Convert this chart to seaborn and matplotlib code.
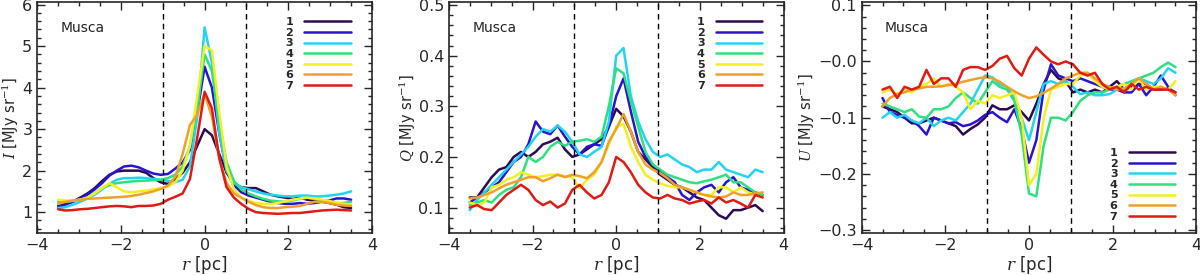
import numpy as np
import pandas as pd
import seaborn as sns
import matplotlib.pyplot as plt
from matplotlib.ticker import MultipleLocator

# radial grid (pc)
r = np.round(np.arange(41) * 0.175 - 3.5, 3)

labels = ["1", "2", "3", "4", "5", "6", "7"]
colors = ["#2e0a52", "#2a14d2", "#22d4f2", "#2ee07e", "#f2f020", "#f0a02a", "#e01a14"]

# total intensity I
I_1 = [1.15, 1.2, 1.25, 1.35, 1.45, 1.58, 1.75, 1.9, 1.98, 2.0, 2.0, 2.0, 1.95, 1.82, 1.72, 1.68, 1.8, 1.95, 2.2, 2.6,
       3.0, 2.85, 2.4, 1.95, 1.7, 1.6, 1.58, 1.58, 1.5, 1.42, 1.38, 1.35, 1.32, 1.35, 1.3, 1.28, 1.25, 1.22, 1.18, 1.12, 1.1]
I_2 = [1.12, 1.18, 1.25, 1.33, 1.42, 1.55, 1.7, 1.88, 2.0, 2.1, 2.12, 2.08, 2.0, 1.93, 1.9, 1.92, 2.05, 2.2, 2.5, 3.4,
       4.5, 4.0, 2.9, 2.0, 1.65, 1.48, 1.4, 1.35, 1.3, 1.25, 1.22, 1.2, 1.2, 1.22, 1.2, 1.22, 1.25, 1.28, 1.33, 1.33, 1.3]
I_3 = [1.1, 1.12, 1.18, 1.25, 1.33, 1.42, 1.55, 1.68, 1.78, 1.82, 1.82, 1.83, 1.82, 1.8, 1.78, 1.75, 1.72, 1.78, 2.1, 3.3,
       5.45, 4.6, 2.9, 2.0, 1.7, 1.6, 1.55, 1.5, 1.45, 1.42, 1.4, 1.38, 1.38, 1.4, 1.4, 1.38, 1.38, 1.4, 1.42, 1.45, 1.5]
I_4 = [1.25, 1.25, 1.27, 1.3, 1.35, 1.45, 1.58, 1.65, 1.7, 1.72, 1.74, 1.75, 1.76, 1.77, 1.78, 1.82, 1.9, 2.1, 2.6, 3.5,
       4.8, 4.4, 3.2, 2.2, 1.75, 1.55, 1.45, 1.38, 1.32, 1.28, 1.26, 1.25, 1.28, 1.32, 1.35, 1.32, 1.28, 1.25, 1.22, 1.22, 1.25]
I_5 = [1.3, 1.28, 1.28, 1.3, 1.35, 1.45, 1.58, 1.7, 1.6, 1.5, 1.48, 1.5, 1.52, 1.55, 1.58, 1.62, 1.72, 2.0, 2.6, 3.8,
       5.0, 4.9, 3.4, 2.1, 1.55, 1.35, 1.28, 1.22, 1.2, 1.2, 1.22, 1.26, 1.3, 1.33, 1.35, 1.33, 1.3, 1.27, 1.23, 1.2, 1.18]
I_6 = [1.2, 1.25, 1.28, 1.3, 1.32, 1.33, 1.34, 1.35, 1.36, 1.37, 1.39, 1.42, 1.46, 1.5, 1.56, 1.64, 1.85, 2.4, 3.1, 3.35,
       3.85, 3.3, 2.3, 1.7, 1.45, 1.35, 1.25, 1.17, 1.12, 1.1, 1.1, 1.12, 1.13, 1.15, 1.2, 1.25, 1.25, 1.22, 1.18, 1.16, 1.15]
I_7 = [1.07, 1.04, 1.05, 1.07, 1.08, 1.1, 1.12, 1.14, 1.15, 1.14, 1.12, 1.15, 1.15, 1.16, 1.2, 1.3, 1.37, 1.45, 1.8, 2.8,
       3.9, 3.5, 2.3, 1.6, 1.35, 1.2, 1.08, 1.0, 0.98, 0.97, 0.96, 0.97, 0.98, 0.98, 1.0, 1.02, 1.04, 1.05, 1.06, 1.05, 1.04]

# Stokes Q
Q_1 = [0.12, 0.12, 0.14, 0.16, 0.175, 0.18, 0.2, 0.21, 0.2, 0.21, 0.225, 0.23, 0.238, 0.215, 0.2, 0.205, 0.215, 0.225, 0.235, 0.26,
       0.295, 0.28, 0.25, 0.21, 0.195, 0.18, 0.165, 0.155, 0.145, 0.14, 0.13, 0.12, 0.115, 0.1, 0.085, 0.078, 0.095, 0.095, 0.1, 0.105, 0.093]
Q_2 = [0.11, 0.12, 0.13, 0.14, 0.15, 0.17, 0.19, 0.2, 0.225, 0.27, 0.25, 0.245, 0.262, 0.24, 0.22, 0.205, 0.22, 0.225, 0.222, 0.26,
       0.32, 0.355, 0.29, 0.23, 0.2, 0.185, 0.17, 0.16, 0.15, 0.125, 0.115, 0.13, 0.14, 0.145, 0.13, 0.15, 0.16, 0.14, 0.135, 0.13, 0.125]
Q_3 = [0.095, 0.115, 0.13, 0.145, 0.16, 0.175, 0.19, 0.205, 0.22, 0.24, 0.255, 0.25, 0.262, 0.25, 0.23, 0.205, 0.2, 0.21, 0.22, 0.27,
       0.4, 0.415, 0.32, 0.27, 0.235, 0.21, 0.2, 0.205, 0.195, 0.185, 0.18, 0.17, 0.175, 0.175, 0.19, 0.175, 0.17, 0.165, 0.16, 0.175, 0.17]
Q_4 = [0.105, 0.11, 0.115, 0.11, 0.125, 0.135, 0.14, 0.16, 0.2, 0.19, 0.2, 0.22, 0.23, 0.222, 0.23, 0.232, 0.235, 0.23, 0.24, 0.3,
       0.375, 0.365, 0.31, 0.26, 0.21, 0.185, 0.175, 0.165, 0.16, 0.155, 0.15, 0.148, 0.152, 0.155, 0.16, 0.165, 0.15, 0.15, 0.14, 0.13, 0.125]
Q_5 = [0.11, 0.105, 0.11, 0.14, 0.145, 0.155, 0.16, 0.17, 0.165, 0.16, 0.162, 0.165, 0.165, 0.162, 0.16, 0.138, 0.155, 0.165, 0.19, 0.225,
       0.26, 0.265, 0.22, 0.19, 0.165, 0.155, 0.148, 0.143, 0.14, 0.14, 0.135, 0.13, 0.125, 0.125, 0.14, 0.14, 0.13, 0.14, 0.13, 0.125, 0.12]
Q_6 = [0.118, 0.12, 0.125, 0.13, 0.138, 0.145, 0.15, 0.155, 0.16, 0.16, 0.152, 0.158, 0.165, 0.16, 0.165, 0.162, 0.158, 0.17, 0.19, 0.23,
       0.255, 0.285, 0.25, 0.21, 0.185, 0.175, 0.168, 0.158, 0.145, 0.14, 0.135, 0.13, 0.125, 0.122, 0.12, 0.122, 0.13, 0.125, 0.125, 0.128, 0.13]
Q_7 = [0.1, 0.105, 0.097, 0.095, 0.11, 0.125, 0.135, 0.145, 0.135, 0.115, 0.105, 0.112, 0.1, 0.108, 0.135, 0.145, 0.13, 0.118, 0.125, 0.15,
       0.2, 0.19, 0.17, 0.145, 0.13, 0.12, 0.118, 0.125, 0.118, 0.115, 0.108, 0.112, 0.115, 0.108, 0.12, 0.11, 0.115, 0.108, 0.1, 0.125, 0.12]

# Stokes U
U_1 = [-0.08, -0.085, -0.09, -0.1, -0.11, -0.11, -0.105, -0.1, -0.105, -0.11, -0.115, -0.13, -0.12, -0.112, -0.1, -0.078, -0.085, -0.085, -0.078, -0.09,
       -0.105, -0.075, -0.04, -0.015, -0.03, -0.035, -0.055, -0.05, -0.055, -0.05, -0.055, -0.045, -0.035, -0.05, -0.045, -0.04, -0.04, -0.05, -0.05, -0.048, -0.055]
U_2 = [-0.065, -0.09, -0.095, -0.1, -0.105, -0.115, -0.13, -0.1, -0.105, -0.11, -0.108, -0.115, -0.112, -0.105, -0.095, -0.09, -0.1, -0.108, -0.085, -0.12,
       -0.18, -0.14, -0.05, -0.005, -0.025, -0.03, -0.035, -0.03, -0.035, -0.04, -0.045, -0.05, -0.05, -0.055, -0.055, -0.04, -0.06, -0.045, -0.025, -0.045, -0.06]
U_3 = [-0.1, -0.09, -0.1, -0.095, -0.105, -0.11, -0.1, -0.115, -0.105, -0.1, -0.105, -0.09, -0.075, -0.05, -0.025, -0.028, -0.04, -0.045, -0.065, -0.1,
       -0.14, -0.09, -0.04, -0.035, -0.04, -0.035, -0.045, -0.058, -0.055, -0.06, -0.06, -0.058, -0.05, -0.048, -0.04, -0.03, -0.035, -0.04, -0.03, -0.012, -0.02]
U_4 = [-0.075, -0.08, -0.085, -0.09, -0.085, -0.098, -0.1, -0.085, -0.085, -0.08, -0.065, -0.055, -0.065, -0.075, -0.055, -0.035, -0.045, -0.05, -0.07, -0.13,
       -0.235, -0.24, -0.15, -0.1, -0.1, -0.105, -0.09, -0.07, -0.06, -0.055, -0.055, -0.05, -0.045, -0.04, -0.035, -0.03, -0.025, -0.02, -0.01, -0.002, -0.01]
U_5 = [-0.055, -0.05, -0.058, -0.05, -0.055, -0.045, -0.04, -0.03, -0.045, -0.04, -0.045, -0.055, -0.085, -0.07, -0.075, -0.06, -0.065, -0.06, -0.055, -0.1,
       -0.22, -0.2, -0.1, -0.05, -0.045, -0.04, -0.04, -0.025, -0.02, -0.035, -0.045, -0.05, -0.045, -0.04, -0.05, -0.03, -0.05, -0.045, -0.045, -0.05, -0.035]
U_6 = [-0.08, -0.065, -0.058, -0.055, -0.05, -0.048, -0.045, -0.045, -0.044, -0.042, -0.04, -0.036, -0.033, -0.03, -0.028, -0.03, -0.036, -0.045, -0.053, -0.06,
       -0.065, -0.062, -0.056, -0.048, -0.04, -0.03, -0.025, -0.02, -0.02, -0.03, -0.04, -0.045, -0.05, -0.048, -0.04, -0.03, -0.04, -0.05, -0.045, -0.05, -0.06]
U_7 = [-0.05, -0.045, -0.065, -0.045, -0.05, -0.045, -0.015, -0.04, -0.03, -0.03, -0.045, -0.015, -0.01, -0.01, -0.015, -0.008, 0.005, 0.01, -0.012, -0.025,
       0.005, 0.025, 0.012, 0.0, -0.005, 0.0, -0.005, -0.02, -0.025, -0.02, -0.04, -0.05, -0.045, -0.055, -0.04, -0.05, -0.045, -0.05, -0.05, -0.05, -0.055]


def long_form(series):
    return pd.concat([pd.DataFrame({"r": r, "val": v, "label": lab}) for lab, v in zip(labels, series)],
                     ignore_index=True)


panels = [
    (long_form([I_1, I_2, I_3, I_4, I_5, I_6, I_7]), r"$I$ [MJy sr$^{-1}$]", (0.5, 6.05), 1, 0.2, "upper right"),
    (long_form([Q_1, Q_2, Q_3, Q_4, Q_5, Q_6, Q_7]), r"$Q$ [MJy sr$^{-1}$]", (0.05, 0.505), 0.1, 0.02, "upper right"),
    (long_form([U_1, U_2, U_3, U_4, U_5, U_6, U_7]), r"$U$ [MJy sr$^{-1}$]", (-0.305, 0.105), 0.1, 0.02, "lower right"),
]

sns.set_style("ticks")
plt.rcParams["font.family"] = ["DejaVu Sans"]
plt.rcParams["mathtext.fontset"] = "dejavuserif"

fig = plt.figure(figsize=(12, 2.75), dpi=100)
lefts = [0.031, 0.374, 0.718]
width = 0.279

for i, (df, ylab, ylim, major, minor, loc) in enumerate(panels):
    ax = fig.add_axes([lefts[i], 0.153, width, 0.838])
    sns.lineplot(data=df, x="r", y="val", hue="label", palette=colors, ax=ax,
                 linewidth=1.8, legend=False, estimator=None)
    ax.axvline(-1, color="black", ls=(0, (4, 3)), lw=1.0)
    ax.axvline(1, color="black", ls=(0, (4, 3)), lw=1.0)
    ax.set_xlim(-4, 4)
    ax.set_ylim(*ylim)
    ax.xaxis.set_major_locator(MultipleLocator(2))
    ax.xaxis.set_minor_locator(MultipleLocator(0.5))
    ax.yaxis.set_major_locator(MultipleLocator(major))
    ax.yaxis.set_minor_locator(MultipleLocator(minor))
    ax.tick_params(which="both", direction="in", top=True, right=True, labelsize=11.5, width=1.0)
    ax.tick_params(which="major", length=6)
    ax.tick_params(which="minor", length=3)
    if i == 2:
        ax.set_yticks([0.1, 0.0, -0.1, -0.2, -0.3])
        ax.set_yticklabels(["0.1", "\u22120.0", "\u22120.1", "\u22120.2", "\u22120.3"])
    for s in ax.spines.values():
        s.set_linewidth(1.2)
    ax.set_xlabel(r"$r$ [pc]", fontsize=12, labelpad=1)
    ax.set_ylabel(ylab, fontsize=10.5, labelpad=0.5)
    ax.text(0.07, 0.89, "Musca", transform=ax.transAxes, fontsize=10, ha="left", va="center")

    handles = [plt.Line2D([], [], color=c, lw=1.8) for c in colors]
    if loc == "upper right":
        anchor = (0.95, 0.955)
    else:
        anchor = (0.95, 0.03)
    ax.legend(handles, labels, loc=loc, bbox_to_anchor=anchor, frameon=False, markerfirst=False,
              prop={"size": 8, "weight": "bold"}, handlelength=4.2, labelspacing=0.05,
              handletextpad=1.0, borderaxespad=0)

fig.savefig("out.png", dpi=100)
